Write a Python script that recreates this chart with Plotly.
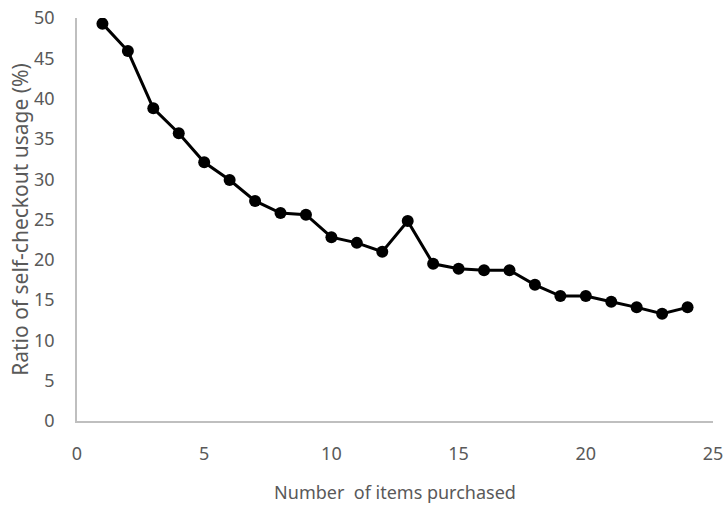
import plotly.graph_objects as go

items = list(range(1, 25))
ratio = [49.3, 45.9, 38.8, 35.7, 32.1, 29.9, 27.3, 25.8, 25.6, 22.8, 22.1, 21.0,
         24.8, 19.5, 18.9, 18.7, 18.7, 16.9, 15.5, 15.5, 14.8, 14.1, 13.3, 14.1]
x_ticks = [0, 5, 10, 15, 20, 25]
y_ticks = [0, 5, 10, 15, 20, 25, 30, 35, 40, 45, 50]

fig = go.Figure(go.Scatter(
    x=items, y=ratio, mode="lines+markers",
    line=dict(color="black", width=3),
    marker=dict(color="black", size=12, symbol="circle"),
))

font_family = "Noto Sans"
gray = "#595959"
fig.update_layout(
    width=726, height=506,
    margin=dict(l=77, r=13, t=18, b=85),
    paper_bgcolor="white", plot_bgcolor="white",
    showlegend=False,
    font=dict(family=font_family, color=gray, size=16),
    xaxis=dict(
        range=[0, 25], tickvals=x_ticks, showgrid=False, zeroline=False,
        showline=True, linecolor="#bfbfbf", linewidth=1.5,
        ticks="", ticklabelstandoff=16, automargin=False,
        tickfont=dict(size=18, color=gray),
        title=dict(text="Number  of items purchased", font=dict(size=18, color=gray), standoff=22),
    ),
    yaxis=dict(
        range=[0, 50], tickvals=y_ticks, showgrid=False, zeroline=False,
        showline=True, linecolor="#bfbfbf", linewidth=1.5,
        ticks="", ticklabelstandoff=17, automargin=False,
        tickfont=dict(size=18, color=gray),
        title=dict(text="Ratio of self-checkout usage (%)", font=dict(size=21, color=gray), standoff=0),
    ),
)

fig.write_html(
    "out.html",
    config={"displayModeBar": False},
    post_script="document.body.style.margin='0';document.body.style.overflow='hidden';",
)
